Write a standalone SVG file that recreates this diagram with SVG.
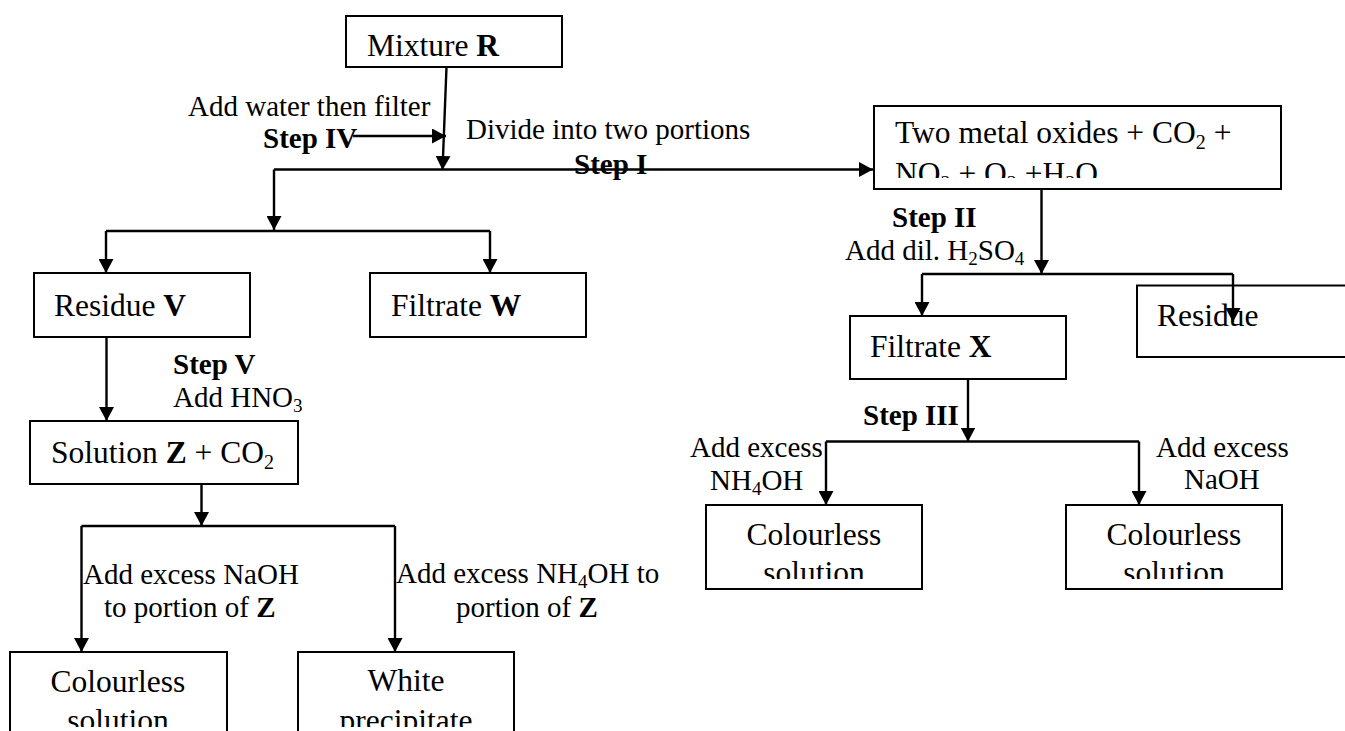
<svg xmlns="http://www.w3.org/2000/svg" width="1345" height="731" viewBox="0 0 1345 731">
<style>
  text { font-family: "Liberation Serif", "Times New Roman", serif; fill: #000; }
  .bx { font-size: 31.5px; }
  .lb { font-size: 29px; }
  .b { font-weight: bold; }
  .box { fill: #fff; stroke: #000; stroke-width: 2; }
  .con { fill: none; stroke: #000; stroke-width: 2.4; }
  .sb { font-size: 20px; }
  .sl { font-size: 19px; }
</style>
<defs>
  <marker id="arr" viewBox="0 0 14 15" markerWidth="14" markerHeight="15" refX="14" refY="7.5" orient="auto" markerUnits="userSpaceOnUse">
    <path d="M0,0 L14,7.5 L0,15 z" fill="#000"/>
  </marker>
  <clipPath id="clipTwo"><rect x="874" y="106" width="407" height="72"/></clipPath>
  <clipPath id="clipC1"><rect x="706" y="505" width="216" height="74"/></clipPath>
  <clipPath id="clipC2"><rect x="1066" y="505" width="216" height="74"/></clipPath>
  <clipPath id="clipBot"><rect x="0" y="640" width="600" height="87"/></clipPath>
</defs>
<rect width="1345" height="731" fill="#fff"/>

<g id="nodes">
  <g id="mixtureR">
    <rect class="box" x="346" y="16" width="216" height="51"/>
    <text class="bx" x="367" y="56">Mixture <tspan class="b">R</tspan></text>
  </g>
  <g id="twoOxides">
    <rect class="box" x="874" y="106" width="407" height="83"/>
    <g clip-path="url(#clipTwo)">
      <text class="bx" x="895" y="143">Two metal oxides + CO<tspan class="sb" dy="6">2</tspan><tspan dy="-6"> +</tspan></text>
      <text class="bx" x="895" y="184">NO<tspan class="sb" dy="6">2</tspan><tspan dy="-6"> + O</tspan><tspan class="sb" dy="6">2</tspan><tspan dy="-6"> +H</tspan><tspan class="sb" dy="6">2</tspan><tspan dy="-6">O</tspan></text>
    </g>
  </g>
  <g id="residueV">
    <rect class="box" x="34" y="273" width="216" height="64"/>
    <text class="bx" x="54" y="316">Residue <tspan class="b">V</tspan></text>
  </g>
  <g id="filtrateW">
    <rect class="box" x="370" y="273" width="216" height="64"/>
    <text class="bx" x="391" y="316">Filtrate <tspan class="b">W</tspan></text>
  </g>
  <g id="solutionZ">
    <rect class="box" x="30" y="421" width="268" height="63"/>
    <text class="bx" x="51" y="463">Solution <tspan class="b">Z</tspan> + CO<tspan class="sb" dy="6">2</tspan></text>
  </g>
  <g id="filtrateX">
    <rect class="box" x="850" y="316" width="216" height="63"/>
    <text class="bx" x="870" y="357">Filtrate <tspan class="b">X</tspan></text>
  </g>
  <g id="residue">
    <rect class="box" x="1137" y="285.5" width="260" height="71.5"/>
    <text class="bx" x="1157" y="326">Residue</text>
  </g>
  <g id="colourless1">
    <rect class="box" x="706" y="505" width="216" height="84"/>
    <g clip-path="url(#clipC1)">
      <text class="bx" x="814" y="545" text-anchor="middle">Colourless</text>
      <text class="bx" x="814" y="583" text-anchor="middle">solution</text>
    </g>
  </g>
  <g id="colourless2">
    <rect class="box" x="1066" y="505" width="216" height="84"/>
    <g clip-path="url(#clipC2)">
      <text class="bx" x="1174" y="545" text-anchor="middle">Colourless</text>
      <text class="bx" x="1174" y="583" text-anchor="middle">solution</text>
    </g>
  </g>
  <g id="colourless3">
    <rect class="box" x="10" y="652" width="217" height="120"/>
    <g clip-path="url(#clipBot)">
      <text class="bx" x="118" y="692" text-anchor="middle">Colourless</text>
      <text class="bx" x="118" y="731" text-anchor="middle">solution</text>
    </g>
  </g>
  <g id="whitePpt">
    <rect class="box" x="298" y="652" width="216" height="120"/>
    <g clip-path="url(#clipBot)">
      <text class="bx" x="406" y="691" text-anchor="middle">White</text>
      <text class="bx" x="406" y="731" text-anchor="middle">precipitate</text>
    </g>
  </g>
</g>

<g id="connectors">
  <line class="con" x1="446.5" y1="67" x2="442.5" y2="170" marker-end="url(#arr)"/>
  <line class="con" x1="353" y1="136" x2="446" y2="136" marker-end="url(#arr)"/>
  <line class="con" x1="274" y1="169.5" x2="873" y2="169.5" marker-end="url(#arr)"/>
  <line class="con" x1="274" y1="169.5" x2="274" y2="230" marker-end="url(#arr)"/>
  <polyline class="con" points="106,231 490,231"/>
  <line class="con" x1="106" y1="231" x2="106" y2="273" marker-end="url(#arr)"/>
  <line class="con" x1="490" y1="231" x2="490" y2="273" marker-end="url(#arr)"/>
  <line class="con" x1="106.5" y1="337" x2="106.5" y2="421" marker-end="url(#arr)"/>
  <line class="con" x1="201.5" y1="484" x2="201.5" y2="526" marker-end="url(#arr)"/>
  <polyline class="con" points="81.5,526 395,526"/>
  <line class="con" x1="81.5" y1="526" x2="81.5" y2="652" marker-end="url(#arr)"/>
  <line class="con" x1="395" y1="526" x2="395" y2="652" marker-end="url(#arr)"/>
  <line class="con" x1="1041.5" y1="189" x2="1041.5" y2="274" marker-end="url(#arr)"/>
  <polyline class="con" points="922,274 1233,274"/>
  <line class="con" x1="922" y1="274" x2="922" y2="316" marker-end="url(#arr)"/>
  <line class="con" x1="1233" y1="274" x2="1233" y2="322" marker-end="url(#arr)"/>
  <line class="con" x1="968" y1="379" x2="968" y2="441.5" marker-end="url(#arr)"/>
  <polyline class="con" points="826,441.5 1139,441.5"/>
  <line class="con" x1="826" y1="441.5" x2="826" y2="505" marker-end="url(#arr)"/>
  <line class="con" x1="1139" y1="441.5" x2="1139" y2="505" marker-end="url(#arr)"/>
</g>

<g id="labels">
  <text class="lb" x="188" y="116">Add water then filter</text>
  <text class="lb b" x="263" y="148">Step IV</text>
  <text class="lb" x="466" y="139">Divide into two portions</text>
  <text class="lb b" x="574" y="174">Step I</text>
  <text class="lb b" x="892" y="227">Step II</text>
  <text class="lb" x="845" y="260">Add dil. H<tspan class="sl" dy="5">2</tspan><tspan dy="-5">SO</tspan><tspan class="sl" dy="5">4</tspan></text>
  <text class="lb b" x="173" y="374">Step V</text>
  <text class="lb" x="173" y="407">Add HNO<tspan class="sl" dy="5">3</tspan></text>
  <text class="lb b" x="863" y="425">Step III</text>
  <text class="lb" x="690" y="457">Add excess</text>
  <text class="lb" x="710" y="490">NH<tspan class="sl" dy="5">4</tspan><tspan dy="-5">OH</tspan></text>
  <text class="lb" x="1156" y="457">Add excess</text>
  <text class="lb" x="1184" y="489">NaOH</text>
  <text class="lb" x="83" y="584">Add excess NaOH</text>
  <text class="lb" x="104" y="617">to portion of <tspan class="b">Z</tspan></text>
  <text class="lb" x="396" y="583">Add excess NH<tspan class="sl" dy="5">4</tspan><tspan dy="-5">OH to</tspan></text>
  <text class="lb" x="456" y="617">portion of <tspan class="b">Z</tspan></text>
</g>
</svg>
